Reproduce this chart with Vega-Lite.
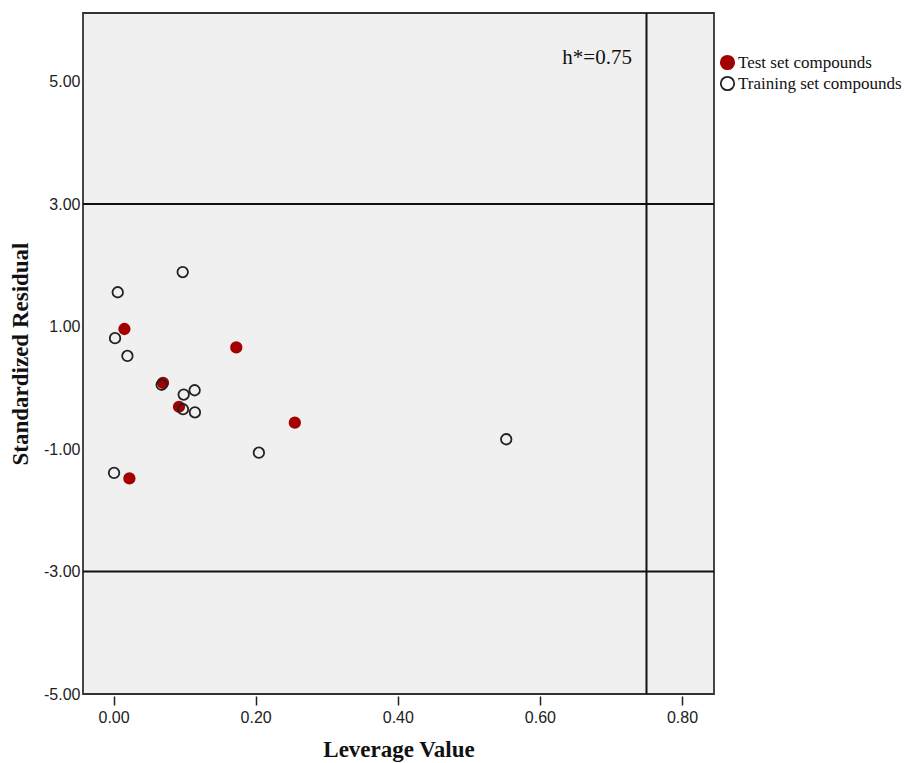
{
  "$schema": "https://vega.github.io/schema/vega-lite/v6.json",
  "autosize": "none",
  "width": 631,
  "height": 681,
  "padding": {"left": 83, "top": 13, "right": 196, "bottom": 69},
  "background": "white",
  "config": {
    "view": {"fill": "#f0f0f0", "stroke": "#333333", "strokeWidth": 1.8},
    "axis": {"grid": false, "domain": false, "labelFont": "Liberation Sans", "labelColor": "#222222", "titleFont": "Liberation Serif", "titleFontSize": 23, "titleFontWeight": "bold", "titleColor": "#111111"}
  },
  "datasets": {
    "points": [
      {"set": "Test set compounds", "leverage": 0.0153, "residual": 0.96},
      {"set": "Test set compounds", "leverage": 0.1727, "residual": 0.66},
      {"set": "Test set compounds", "leverage": 0.0696, "residual": 0.08},
      {"set": "Test set compounds", "leverage": 0.0921, "residual": -0.31},
      {"set": "Test set compounds", "leverage": 0.2551, "residual": -0.57},
      {"set": "Test set compounds", "leverage": 0.0223, "residual": -1.48},
      {"set": "Training set compounds", "leverage": 0.0973, "residual": 1.89},
      {"set": "Training set compounds", "leverage": 0.0059, "residual": 1.56},
      {"set": "Training set compounds", "leverage": 0.0021, "residual": 0.81},
      {"set": "Training set compounds", "leverage": 0.0195, "residual": 0.52},
      {"set": "Training set compounds", "leverage": 0.0677, "residual": 0.05},
      {"set": "Training set compounds", "leverage": 0.0987, "residual": -0.11},
      {"set": "Training set compounds", "leverage": 0.1141, "residual": -0.04},
      {"set": "Training set compounds", "leverage": 0.0977, "residual": -0.35},
      {"set": "Training set compounds", "leverage": 0.1145, "residual": -0.40},
      {"set": "Training set compounds", "leverage": 0.2045, "residual": -1.06},
      {"set": "Training set compounds", "leverage": 0.5526, "residual": -0.84},
      {"set": "Training set compounds", "leverage": 0.0007, "residual": -1.39}
    ],
    "hlines": [{"y": 3}, {"y": -3}],
    "vline": [{"h": 0.75}],
    "note": [{"label": "h*=0.75", "x": 0.6805, "y": 5.38}]
  },
  "layer": [
    {
      "data": {"name": "hlines"},
      "mark": {"type": "rule", "color": "#111111", "strokeWidth": 2},
      "encoding": {"y": {"field": "y", "type": "quantitative"}}
    },
    {
      "data": {"name": "vline"},
      "mark": {"type": "rule", "color": "#111111", "strokeWidth": 2},
      "encoding": {"x": {"field": "h", "type": "quantitative"}}
    },
    {
      "data": {"name": "note"},
      "mark": {"type": "text", "font": "Liberation Serif", "fontSize": 21, "fontWeight": "normal", "fill": "#111111", "align": "center", "baseline": "middle"},
      "encoding": {"x": {"field": "x", "type": "quantitative"}, "y": {"field": "y", "type": "quantitative"}, "text": {"field": "label"}}
    },
    {
      "data": {"name": "points"},
      "mark": {"type": "point", "shape": "circle", "size": 110, "strokeWidth": 1.8, "opacity": 1},
      "encoding": {
        "x": {
          "field": "leverage", "type": "quantitative",
          "scale": {"domain": [-0.043, 0.845], "nice": false, "zero": false},
          "axis": {"title": "Leverage Value", "values": [0, 0.2, 0.4, 0.6, 0.8], "labelExpr": "replace(format(datum.value, '.2f'), '\u2212', '-')", "labelFontSize": 16, "ticks": true, "tickSize": 9, "tickColor": "#222222", "tickWidth": 1.5, "offset": 2, "labelPadding": 4, "titlePadding": 13}
        },
        "y": {
          "field": "residual", "type": "quantitative",
          "scale": {"domain": [-5, 6.12], "nice": false, "zero": false},
          "axis": {"title": "Standardized Residual", "values": [-5, -3, -1, 1, 3, 5], "labelExpr": "replace(format(datum.value, '.2f'), '\u2212', '-')", "labelFontSize": 16, "ticks": false, "labelPadding": 3, "titlePadding": 11}
        },
        "fill": {
          "field": "set", "type": "nominal",
          "scale": {"domain": ["Test set compounds", "Training set compounds"], "range": ["#a30000", "transparent"]},
          "legend": {"title": null, "orient": "none", "legendX": 636, "legendY": 41, "labelFont": "Liberation Serif", "labelFontSize": 17, "labelColor": "#111111", "labelLimit": 0, "symbolSize": 180, "symbolStrokeWidth": 1.8, "rowPadding": 0, "labelOffset": 2}
        },
        "stroke": {
          "field": "set", "type": "nominal",
          "scale": {"domain": ["Test set compounds", "Training set compounds"], "range": ["#a30000", "#222222"]},
          "legend": {"title": null, "orient": "none", "legendX": 636, "legendY": 41, "labelFont": "Liberation Serif", "labelFontSize": 17, "labelColor": "#111111", "labelLimit": 0, "symbolSize": 180, "symbolStrokeWidth": 1.8, "rowPadding": 0, "labelOffset": 2}
        },
        "order": {"field": "set", "type": "nominal", "sort": "ascending"}
      }
    }
  ]
}
